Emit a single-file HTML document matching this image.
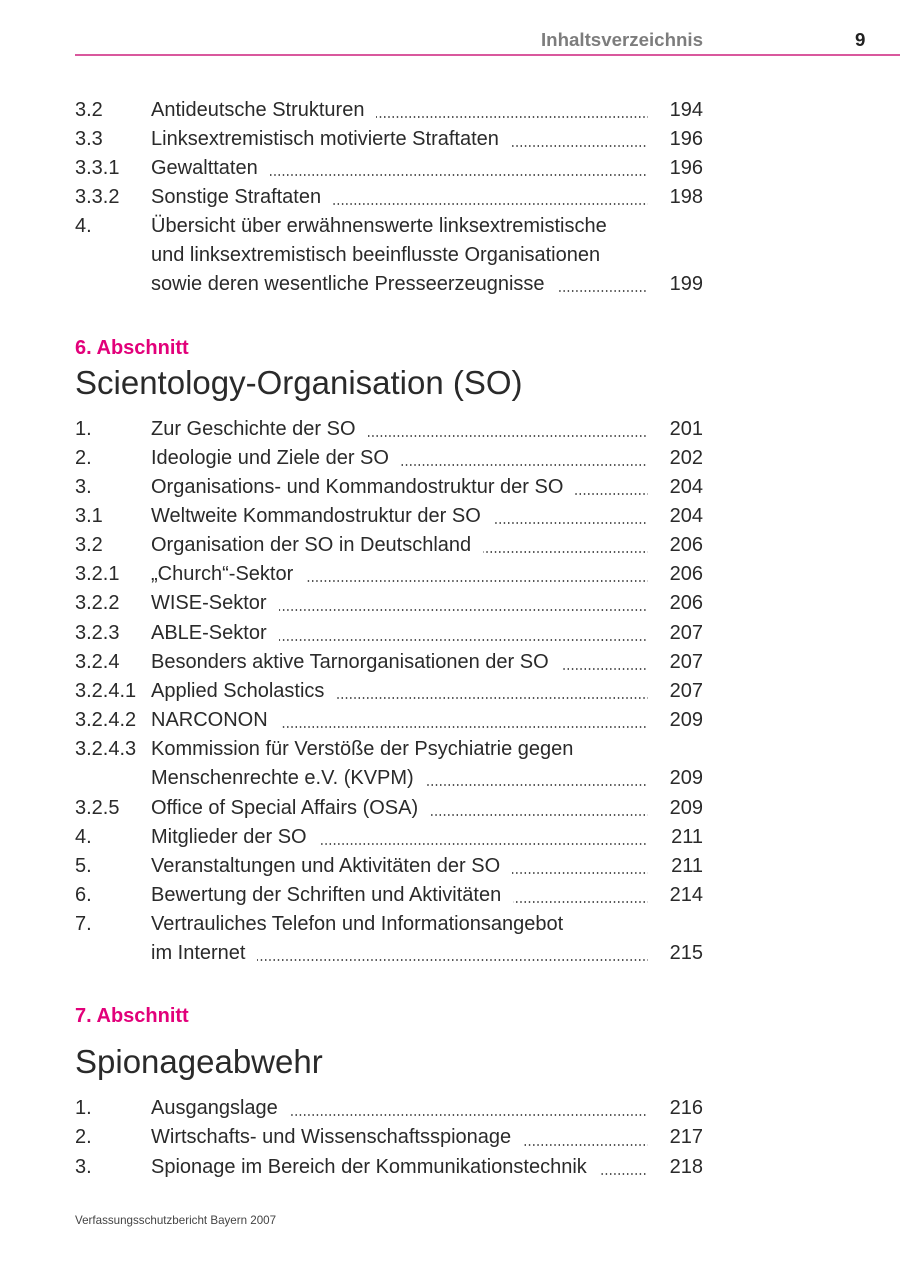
<!DOCTYPE html>
<html><head><meta charset="utf-8">
<style>
*{margin:0;padding:0;box-sizing:border-box}
html,body{width:900px;height:1272px;background:#fff;overflow:hidden}
body{position:relative;font-family:"Liberation Sans",Arial,sans-serif;color:#2a2a2a}
.abs{position:absolute;white-space:nowrap}
.block{position:absolute;left:75px;width:628px;font-size:20px}
.row{display:flex;width:628px}
.n{width:76px;flex:none}
.t{flex:none;white-space:nowrap}
.l{flex:1;margin-left:12px;background-image:linear-gradient(to right,#555 0,#555 1.4px,rgba(0,0,0,0) 1.4px);background-size:4.25px 1.5px;background-repeat:repeat-x}
.p{width:55px;flex:none;text-align:right}
.b1 .row{height:29px;line-height:29px}
.b1 .l{background-position:right 0 top 20px}
.b2 .row{height:29.17px;line-height:29.17px}
.b2 .l{background-position:right 0 top 20px}
.b3 .row{height:29.4px;line-height:29.4px}
.b3 .l{background-position:right 0 top 20.2px}
.sec{font-size:20px;line-height:20px;font-weight:bold;color:#e2007a;left:75px}
.h{font-size:33px;line-height:33px;left:75px;color:#2a2a2a}
</style></head><body>

<div class="abs" style="left:400px;width:303px;text-align:right;top:30.5px;font-size:18.7px;line-height:18.7px;font-weight:bold;color:#7d7d7d">Inhaltsverzeichnis</div>
<div class="abs" style="left:855px;top:30.5px;font-size:18.7px;line-height:18.7px;font-weight:bold;color:#222">9</div>
<div class="abs" style="left:75px;top:54px;width:825px;height:2px;background:#d9589d"></div>

<div class="block b1" style="top:95.5px">
<div class="row"><span class="n">3.2</span><span class="t">Antideutsche Strukturen</span><span class="l"></span><span class="p">194</span></div>
<div class="row"><span class="n">3.3</span><span class="t">Linksextremistisch motivierte Straftaten</span><span class="l"></span><span class="p">196</span></div>
<div class="row"><span class="n">3.3.1</span><span class="t">Gewalttaten</span><span class="l"></span><span class="p">196</span></div>
<div class="row"><span class="n">3.3.2</span><span class="t">Sonstige Straftaten</span><span class="l"></span><span class="p">198</span></div>
<div class="row"><span class="n">4.</span><span class="t">Übersicht über erwähnenswerte linksextremistische</span></div>
<div class="row"><span class="n"></span><span class="t">und linksextremistisch beeinflusste Organisationen</span></div>
<div class="row"><span class="n"></span><span class="t">sowie deren wesentliche Presseerzeugnisse</span><span class="l"></span><span class="p">199</span></div>
</div>

<div class="abs sec" style="top:338px">6. Abschnitt</div>
<div class="abs h" style="top:365.6px">Scientology-Organisation (SO)</div>

<div class="block b2" style="top:414.5px">
<div class="row"><span class="n">1.</span><span class="t">Zur Geschichte der SO</span><span class="l"></span><span class="p">201</span></div>
<div class="row"><span class="n">2.</span><span class="t">Ideologie und Ziele der SO</span><span class="l"></span><span class="p">202</span></div>
<div class="row"><span class="n">3.</span><span class="t">Organisations- und Kommandostruktur der SO</span><span class="l"></span><span class="p">204</span></div>
<div class="row"><span class="n">3.1</span><span class="t">Weltweite Kommandostruktur der SO</span><span class="l"></span><span class="p">204</span></div>
<div class="row"><span class="n">3.2</span><span class="t">Organisation der SO in Deutschland</span><span class="l"></span><span class="p">206</span></div>
<div class="row"><span class="n">3.2.1</span><span class="t">„Church“-Sektor</span><span class="l"></span><span class="p">206</span></div>
<div class="row"><span class="n">3.2.2</span><span class="t">WISE-Sektor</span><span class="l"></span><span class="p">206</span></div>
<div class="row"><span class="n">3.2.3</span><span class="t">ABLE-Sektor</span><span class="l"></span><span class="p">207</span></div>
<div class="row"><span class="n">3.2.4</span><span class="t">Besonders aktive Tarnorganisationen der SO</span><span class="l"></span><span class="p">207</span></div>
<div class="row"><span class="n">3.2.4.1</span><span class="t">Applied Scholastics</span><span class="l"></span><span class="p">207</span></div>
<div class="row"><span class="n">3.2.4.2</span><span class="t">NARCONON</span><span class="l"></span><span class="p">209</span></div>
<div class="row"><span class="n">3.2.4.3</span><span class="t">Kommission für Verstöße der Psychiatrie gegen</span></div>
<div class="row"><span class="n"></span><span class="t">Menschenrechte e.V. (KVPM)</span><span class="l"></span><span class="p">209</span></div>
<div class="row"><span class="n">3.2.5</span><span class="t">Office of Special Affairs (OSA)</span><span class="l"></span><span class="p">209</span></div>
<div class="row"><span class="n">4.</span><span class="t">Mitglieder der SO</span><span class="l"></span><span class="p">211</span></div>
<div class="row"><span class="n">5.</span><span class="t">Veranstaltungen und Aktivitäten der SO</span><span class="l"></span><span class="p">211</span></div>
<div class="row"><span class="n">6.</span><span class="t">Bewertung der Schriften und Aktivitäten</span><span class="l"></span><span class="p">214</span></div>
<div class="row"><span class="n">7.</span><span class="t">Vertrauliches Telefon und Informationsangebot</span></div>
<div class="row"><span class="n"></span><span class="t">im Internet</span><span class="l"></span><span class="p">215</span></div>
</div>

<div class="abs sec" style="top:1006px">7. Abschnitt</div>
<div class="abs h" style="top:1045px">Spionageabwehr</div>

<div class="block b3" style="top:1094px">
<div class="row"><span class="n">1.</span><span class="t">Ausgangslage</span><span class="l"></span><span class="p">216</span></div>
<div class="row"><span class="n">2.</span><span class="t">Wirtschafts- und Wissenschaftsspionage</span><span class="l"></span><span class="p">217</span></div>
<div class="row"><span class="n">3.</span><span class="t">Spionage im Bereich der Kommunikationstechnik</span><span class="l"></span><span class="p">218</span></div>
</div>

<div class="abs" style="left:75px;top:1215.4px;font-size:11.6px;line-height:11.6px;color:#444">Verfassungsschutzbericht Bayern 2007</div>

</body></html>
